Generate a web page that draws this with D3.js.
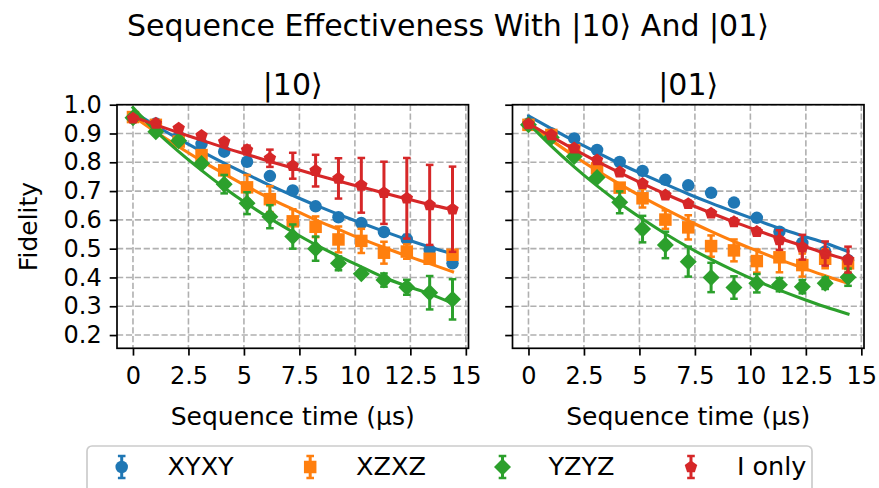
<!DOCTYPE html>
<html>
<head>
<meta charset="utf-8">
<script src="https://cdn.jsdelivr.net/npm/d3@7"></script>
<style>
  body { margin: 0; background: #ffffff; }
  text { font-family: 'DejaVu Sans', sans-serif; fill: #000000; }
</style>
</head>
<body>
<svg id="chart" width="879" height="488"></svg>
<script>
// Sequence times (µs) shared by every series
const times = [0, 1.03, 2.06, 3.09, 4.11, 5.14, 6.17, 7.2, 8.23, 9.26, 10.29, 11.31, 12.34, 13.37, 14.4]

const seriesNames = ['XYXY', 'XZXZ', 'YZYZ', 'I only']
const seriesColors = ['#1f77b4', '#ff7f0e', '#2ca02c', '#d62728']
const seriesMarkers = ['circle', 'square', 'diamond', 'pentagon']
const panelTitles = ['|10⟩', '|01⟩']

const xTicks = [0, 2.5, 5, 7.5, 10, 12.5, 15]
const xTickLabels = ['0', '2.5', '5', '7.5', '10', '12.5', '15']
const yTicks = [0.2, 0.3, 0.4, 0.5, 0.6, 0.7, 0.8, 0.9, 1.0]
const yTickLabels = ['0.2', '0.3', '0.4', '0.5', '0.6', '0.7', '0.8', '0.9', '1.0']

// |10> panel : measured fidelity, error and fitted decay
const xyxy10 = [0.955, 0.935, 0.889, 0.864, 0.837, 0.802, 0.752, 0.702, 0.647, 0.609, 0.589, 0.558, 0.533, 0.495, 0.449]
const xyxy10Err = [0.005, 0.005, 0.006, 0.006, 0.007, 0.007, 0.008, 0.008, 0.008, 0.008, 0.012, 0.012, 0.015, 0.01, 0.01]
const xyxy10Fit = [0.975, 0.927, 0.881, 0.838, 0.797, 0.758, 0.72, 0.685, 0.651, 0.619, 0.589, 0.56, 0.532, 0.506, 0.482]
const xzxz10 = [0.957, 0.93, 0.872, 0.825, 0.772, 0.713, 0.672, 0.595, 0.576, 0.532, 0.527, 0.486, 0.49, 0.465, 0.479]
const xzxz10Err = [0.006, 0.008, 0.01, 0.015, 0.012, 0.043, 0.045, 0.042, 0.036, 0.045, 0.042, 0.038, 0.025, 0.015, 0.012]
const xzxz10Fit = [0.96, 0.905, 0.854, 0.805, 0.76, 0.716, 0.675, 0.637, 0.6, 0.567, 0.534, 0.504, 0.475, 0.448, 0.42]
const yzyz10 = [0.955, 0.906, 0.875, 0.796, 0.724, 0.658, 0.611, 0.542, 0.5, 0.449, 0.413, 0.391, 0.366, 0.347, 0.324]
const yzyz10Err = [0.005, 0.006, 0.01, 0.012, 0.032, 0.038, 0.04, 0.042, 0.042, 0.024, 0.01, 0.023, 0.026, 0.058, 0.07]
const yzyz10Fit = [0.99, 0.908, 0.837, 0.772, 0.712, 0.656, 0.605, 0.558, 0.514, 0.474, 0.437, 0.4, 0.37, 0.343, 0.31]
const ionly10 = [0.953, 0.935, 0.918, 0.893, 0.871, 0.843, 0.814, 0.788, 0.771, 0.744, 0.72, 0.694, 0.675, 0.652, 0.637]
const ionly10Err = [0.005, 0.006, 0.008, 0.008, 0.01, 0.015, 0.03, 0.045, 0.055, 0.07, 0.095, 0.108, 0.14, 0.139, 0.148]
const ionly10Fit = [0.958, 0.93, 0.903, 0.877, 0.851, 0.827, 0.803, 0.78, 0.757, 0.735, 0.714, 0.693, 0.673, 0.653, 0.636]

// |01> panel
const xyxy01 = [0.935, 0.9, 0.883, 0.843, 0.801, 0.77, 0.739, 0.72, 0.694, 0.66, 0.607, 0.559, 0.52, 0.49, 0.46]
const xyxy01Err = [0.005, 0.005, 0.006, 0.006, 0.006, 0.007, 0.007, 0.008, 0.008, 0.008, 0.01, 0.012, 0.012, 0.012, 0.012]
const xyxy01Fit = [0.961, 0.917, 0.874, 0.834, 0.795, 0.759, 0.724, 0.69, 0.658, 0.628, 0.599, 0.571, 0.545, 0.52, 0.49]
const xzxz01 = [0.93, 0.895, 0.842, 0.779, 0.712, 0.675, 0.601, 0.574, 0.509, 0.494, 0.457, 0.47, 0.443, 0.465, 0.449]
const xzxz01Err = [0.005, 0.006, 0.008, 0.01, 0.012, 0.032, 0.032, 0.042, 0.037, 0.038, 0.04, 0.052, 0.04, 0.033, 0.02]
const xzxz01Fit = [0.935, 0.877, 0.822, 0.771, 0.724, 0.679, 0.637, 0.597, 0.56, 0.525, 0.493, 0.462, 0.434, 0.406, 0.38]
const yzyz01 = [0.93, 0.886, 0.82, 0.747, 0.661, 0.568, 0.513, 0.455, 0.4, 0.365, 0.38, 0.375, 0.368, 0.38, 0.401]
const yzyz01Err = [0.005, 0.008, 0.01, 0.012, 0.038, 0.046, 0.046, 0.052, 0.051, 0.039, 0.032, 0.023, 0.023, 0.02, 0.03]
const yzyz01Fit = [0.935, 0.856, 0.784, 0.718, 0.658, 0.603, 0.552, 0.505, 0.463, 0.424, 0.388, 0.356, 0.326, 0.298, 0.273]
const ionly01 = [0.933, 0.895, 0.849, 0.808, 0.766, 0.726, 0.686, 0.656, 0.623, 0.593, 0.559, 0.53, 0.505, 0.483, 0.462]
const ionly01Err = [0.005, 0.006, 0.008, 0.008, 0.008, 0.008, 0.01, 0.01, 0.01, 0.012, 0.012, 0.034, 0.043, 0.042, 0.045]
const ionly01Fit = [0.935, 0.889, 0.845, 0.803, 0.764, 0.726, 0.69, 0.656, 0.624, 0.593, 0.564, 0.536, 0.51, 0.484, 0.461]

const panels = [
  { title: panelTitles[0], left: 117, right: 468.5, showYLabels: true,
    values: [xyxy10, xzxz10, yzyz10, ionly10],
    errors: [xyxy10Err, xzxz10Err, yzyz10Err, ionly10Err],
    fits: [xyxy10Fit, xzxz10Fit, yzyz10Fit, ionly10Fit] },
  { title: panelTitles[1], left: 512.5, right: 864, showYLabels: false,
    values: [xyxy01, xzxz01, yzyz01, ionly01],
    errors: [xyxy01Err, xzxz01Err, yzyz01Err, ionly01Err],
    fits: [xyxy01Fit, xzxz01Fit, yzyz01Fit, ionly01Fit] }
]

const TOP = 104.7
const BOTTOM = 348.3
const MARKER = 12.5
const CAP = 3.8

/**
 * Builds the path of a matplotlib-like marker centred on the origin.
 *
 * @param {string} shape The marker name
 * @param {number} size The marker size in pixels
 * @returns {string} The svg path
 */
function markerPath (shape, size) {
  const h = size / 2
  if (shape === 'circle') return d3.symbol(d3.symbolCircle, Math.PI * h * h)()
  if (shape === 'square') return `M${-h},${-h}H${h}V${h}H${-h}Z`
  if (shape === 'diamond') {
    const d = h * 1.36
    return `M0,${-d}L${d},0L0,${d}L${-d},0Z`
  }
  const pts = d3.range(5).map(k => {
    const a = -Math.PI / 2 + k * 2 * Math.PI / 5
    return [h * 1.05 * Math.cos(a), h * 1.05 * Math.sin(a)]
  })
  return 'M' + pts.map(p => p.join(',')).join('L') + 'Z'
}

/**
 * Draws an error bar with caps and its marker.
 *
 * @param {*} g The group to draw in
 * @param {number} x The x position
 * @param {number} y0 The top of the bar
 * @param {number} y1 The bottom of the bar
 * @param {number} yc The marker position
 * @param {number} i The series index
 */
function errorMark (g, x, y0, y1, yc, i) {
  const color = seriesColors[i]
  g.append('line').attr('x1', x).attr('x2', x).attr('y1', y0).attr('y2', y1)
    .attr('stroke', color).attr('stroke-width', 3)
  for (const y of [y0, y1]) {
    g.append('line').attr('x1', x - CAP).attr('x2', x + CAP).attr('y1', y).attr('y2', y)
      .attr('stroke', color).attr('stroke-width', 2.5)
  }
  g.append('path').attr('d', markerPath(seriesMarkers[i], MARKER))
    .attr('transform', `translate(${x},${yc})`)
    .attr('fill', color)
}

/**
 * Draws one panel : grid, axes, error bars and fitted curves.
 *
 * @param {*} svg The svg selection
 * @param {object} p The panel description
 */
function drawPanel (svg, p) {
  const x = d3.scaleLinear().domain([-0.72, 15.12]).range([p.left, p.right])
  const y = d3.scaleLinear().domain([0.154, 1.0]).range([BOTTOM, TOP])
  const g = svg.append('g')

  // dashed grid
  g.selectAll('.gx').data(xTicks).enter().append('line')
    .attr('x1', d => x(d)).attr('x2', d => x(d)).attr('y1', TOP).attr('y2', BOTTOM)
    .attr('stroke', '#b0b0b0').attr('stroke-width', 1.6).attr('stroke-dasharray', '6.2,2.7')
  g.selectAll('.gy').data(yTicks).enter().append('line')
    .attr('x1', p.left).attr('x2', p.right).attr('y1', d => y(d)).attr('y2', d => y(d))
    .attr('stroke', '#b0b0b0').attr('stroke-width', 1.6).attr('stroke-dasharray', '6.2,2.7')

  // series
  const line = d3.line().x((d, k) => x(times[k])).y(d => y(d)).curve(d3.curveMonotoneX)
  p.values.forEach((vals, i) => {
    const sg = g.append('g')
    vals.forEach((v, k) => {
      const e = p.errors[i][k]
      errorMark(sg, x(times[k]), y(v + e), y(v - e), y(v), i)
    })
    sg.append('path').datum(p.fits[i]).attr('d', line)
      .attr('fill', 'none').attr('stroke', seriesColors[i]).attr('stroke-width', 3.1)
      .attr('stroke-linecap', 'square')
  })

  // axes
  const xAxis = d3.axisBottom(x).tickValues(xTicks).tickFormat((d, k) => xTickLabels[k])
    .tickSize(7.3).tickSizeOuter(0).tickPadding(11)
  const gx = svg.append('g').attr('transform', `translate(0,${BOTTOM})`).call(xAxis)
  const yAxis = d3.axisLeft(y).tickValues(yTicks)
    .tickFormat((d, k) => p.showYLabels ? yTickLabels[k] : '')
    .tickSize(7.3).tickSizeOuter(0).tickPadding(8)
  const gy = svg.append('g').attr('transform', `translate(${p.left},0)`).call(yAxis)
  for (const a of [gx, gy]) {
    a.select('.domain').remove()
    a.selectAll('line').attr('stroke', '#000').attr('stroke-width', 1.7)
    a.selectAll('text').attr('font-size', 24).attr('font-family', 'DejaVu Sans')
  }

  svg.append('rect').attr('x', p.left).attr('y', TOP)
    .attr('width', p.right - p.left).attr('height', BOTTOM - TOP)
    .attr('fill', 'none').attr('stroke', '#000').attr('stroke-width', 1.7)

  svg.append('text').attr('x', (p.left + p.right) / 2).attr('y', 95)
    .attr('text-anchor', 'middle').attr('font-size', 30).text(p.title)
  svg.append('text').attr('x', (p.left + p.right) / 2).attr('y', 425)
    .attr('text-anchor', 'middle').attr('font-size', 25).text('Sequence time (µs)')
}

/**
 * Draws the legend below both panels.
 *
 * @param {*} svg The svg selection
 */
function drawLegend (svg) {
  svg.append('rect').attr('x', 87).attr('y', 446).attr('width', 725).attr('height', 70)
    .attr('rx', 5).attr('fill', '#fff').attr('stroke', '#cccccc').attr('stroke-width', 1.7)
  const fs = 25.5
  let x0 = 121.7
  seriesNames.forEach((name, i) => {
    const g = svg.append('g')
    errorMark(g, x0, 456, 478, 467, i)
    const t = g.append('text').attr('x', x0 + 1.8 * fs).attr('y', 475)
      .attr('font-size', fs).text(name)
    x0 += 1.8 * fs + t.node().getComputedTextLength() + 3 * fs
  })
}

const svg = d3.select('#chart')
panels.forEach(p => drawPanel(svg, p))

svg.append('text').attr('x', 448).attr('y', 36).attr('text-anchor', 'middle')
  .attr('font-size', 30).text('Sequence Effectiveness With |10⟩ And |01⟩')
svg.append('text').attr('transform', 'translate(37,226.5) rotate(-90)')
  .attr('text-anchor', 'middle').attr('font-size', 25).text('Fidelity')

drawLegend(svg)
</script>
</body>
</html>
